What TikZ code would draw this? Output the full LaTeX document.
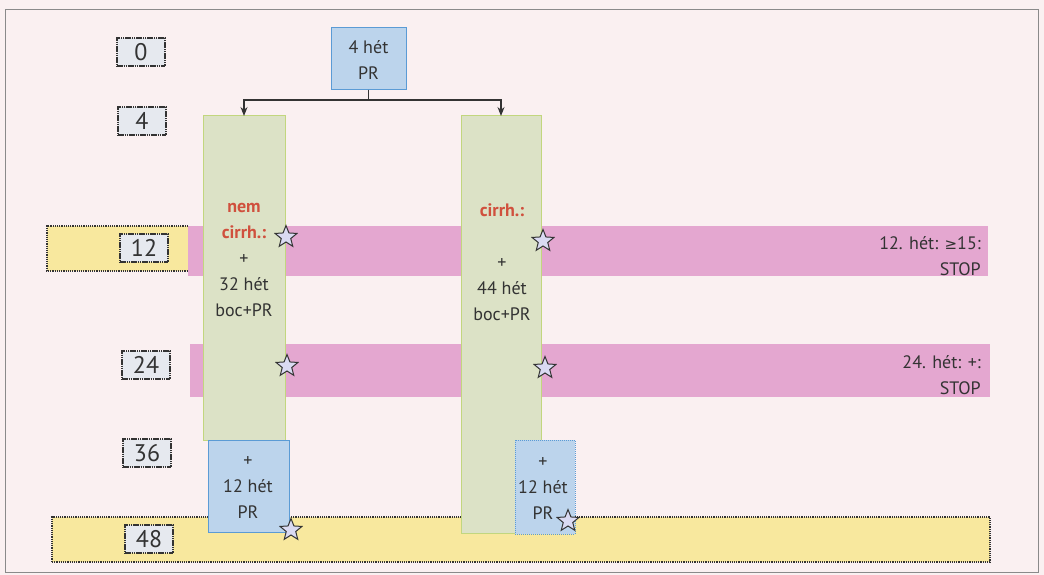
\documentclass[tikz,border=0pt]{standalone}
\usepackage{fontspec}
\setmainfont{PT Sans}
\newfontfamily\symfont{DejaVu Sans}
\usetikzlibrary{shapes.geometric,arrows.meta}
\definecolor{bg}{HTML}{FAF0F1}
\definecolor{pinkband}{HTML}{E4A7D0}
\definecolor{yellowband}{HTML}{F8E89E}
\definecolor{greenfill}{HTML}{DCE2C6}
\definecolor{greenline}{HTML}{C2D67E}
\definecolor{bluefill}{HTML}{BCD4EC}
\definecolor{blueline}{HTML}{5B9BD5}
\definecolor{labfill}{HTML}{E6E9EF}
\definecolor{redtxt}{HTML}{D0503D}
\definecolor{txt}{HTML}{333333}
\definecolor{framec}{HTML}{8A8A8A}
\definecolor{starfill}{HTML}{DADAF2}
\tikzset{
  box/.style={rectangle, inner sep=0pt, outer sep=0pt},
  band/.style={box, fill=pinkband},
  yband/.style={box, fill=yellowband},
  col/.style={box, fill=greenfill, draw=greenline, line width=1pt},
  bluebox/.style={box, fill=bluefill, draw=blueline, line width=1pt},
  lab/.style={box, fill=labfill, draw=txt, dash pattern=on 1.6pt off 0.6pt, line width=1.4pt,
    minimum width=48pt, minimum height=28pt, text=txt,
    font=\fontsize{24pt}{26pt}\selectfont},
  body/.style={text=txt, align=center, font=\fontsize{18pt}{26pt}\selectfont, inner sep=0pt},
  starn/.style={star, star points=5, star point ratio=2.3, minimum size=23pt,
    inner sep=0pt, fill=starfill, draw=txt, line width=1pt},
  arr/.style={draw=txt, line width=1.2pt, -{Stealth[length=9pt,width=7pt]}},
}
\begin{document}
\begin{tikzpicture}[x=1pt,y=-1pt]
\useasboundingbox (0,0) rectangle (1044,575);
\fill[bg] (0,0) rectangle (1044,575);
\draw[framec, line width=1pt] (5,10) rectangle (1038,572);

% bands
\node[band, minimum width=800pt, minimum height=50pt] (p12) at (588,251) {};
\node[band, minimum width=800pt, minimum height=53pt] (p24) at (590,370) {};
\node[yband, minimum width=141pt, minimum height=45pt] (y12) at (117.5,248.5) {};
\draw[txt, densely dotted, line width=1.2pt] (y12.north east) -- (y12.north west) -- (y12.south west) -- (y12.south east);
\node[yband, draw=txt, densely dotted, line width=1.2pt, minimum width=938pt, minimum height=45pt] (y48) at (521,539.5) {};

% columns
\node[col, minimum width=82pt, minimum height=324pt] (gl) at (244,278) {};
\node[col, minimum width=80pt, minimum height=417pt] (gr) at (501,324.5) {};
\node[bluebox, minimum width=81pt, minimum height=92pt] (bl) at (248.5,486) {};
\node[bluebox, densely dotted, minimum width=60pt, minimum height=94pt] (br) at (545,487) {};

% texts in columns
\node[body] (tl) at (244,260) {\textcolor{redtxt}{\bfseries nem}\\\textcolor{redtxt}{\bfseries cirrh.:}\\+\\32 hét\\boc+PR};
\node[body] (tr) at (502,262.5) {\textcolor{redtxt}{\bfseries cirrh.:}\\[26pt]+\\44 hét\\boc+PR};
\node[body] (tbl) at (248,488) {+\\12 hét\\PR};
\node[body] (tbr) at (543,488.5) {+\\12 hét\\PR};

% top box
\node[bluebox, minimum width=75pt, minimum height=62pt] (top) at (368.5,59) {};
\node[body] (ttop) at (368.5,60) {4 hét\\PR};
\draw[arr] (top.south) -- ++(0,10) -| (gl.north);
\draw[arr] (top.south) -- ++(0,10) -| (gr.north);

% band texts
\node[body, anchor=east, align=right] (t12) at (981,256) {12. hét: {\symfont\fontsize{15pt}{26pt}\selectfont ≥}15:\\STOP};
\node[body, anchor=east, align=right] (t24) at (981,375) {24. hét: +:\\STOP};

% week labels
\node[lab] (w0) at (141,52) {0};
\node[lab] (w4) at (142,121) {4};
\node[lab] (w12) at (144,248) {12};
\node[lab] (w24) at (146,365) {24};
\node[lab] (w36) at (147,453) {36};
\node[lab] (w48) at (149,539) {48};

% stars
\node[starn] (s1) at (286,237) {};
\node[starn] (s2) at (287,366) {};
\node[starn] (s3) at (291,530) {};
\node[starn] (s4) at (543,241) {};
\node[starn] (s5) at (545,368) {};
\node[starn] (s6) at (568,521) {};
\end{tikzpicture}
\end{document}
